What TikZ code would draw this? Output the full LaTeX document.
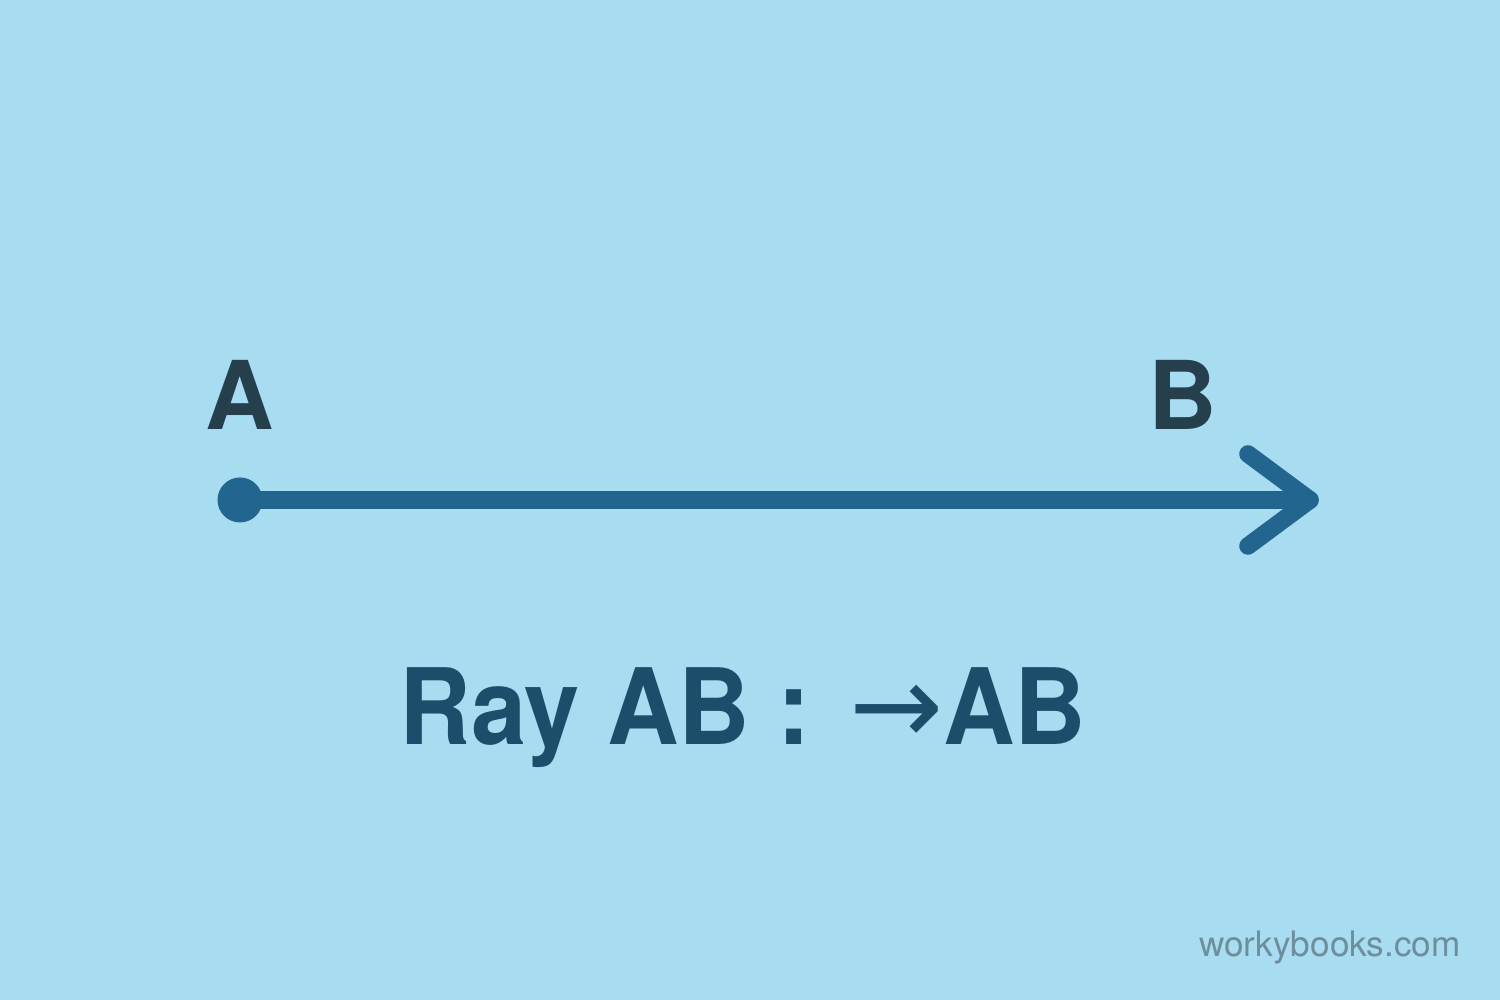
\documentclass[tikz,border=0pt]{standalone}
\usepackage{fontspec}
\setmainfont{TeX Gyre Heros}
\newfontfamily\arrowfont{DejaVu Sans}
\newfontfamily\narrowfont[FakeStretch=0.94]{TeX Gyre Heros}
\usepackage{tikz}
\usetikzlibrary{arrows.meta, positioning, calc}

\definecolor{bgblue}{HTML}{A8DCF1}
\definecolor{raycol}{HTML}{22668F}
\definecolor{pointlabel}{HTML}{263F4C}
\definecolor{titlecol}{HTML}{1B4E6B}
\definecolor{markcol}{HTML}{6F8E9C}

\begin{document}
\begin{tikzpicture}[
		every node/.style={inner sep=0pt},
		ray/.style={draw=raycol, line width=5pt, line cap=round, line join=round},
		endpoint/.style={circle, fill=raycol, minimum size=0.45cm},
		pointname/.style={text=pointlabel, font=\fontsize{27}{32}\selectfont\bfseries, anchor=base},
		caption/.style={text=titlecol, font=\narrowfont\fontsize{30}{36}\selectfont\bfseries, anchor=base},
		watermark/.style={text=markcol, font=\fontsize{10}{12}\selectfont, anchor=base}
		]
		
		% === BACKGROUND ===
		\fill[bgblue] (0, 0) rectangle (15, 10);
		\useasboundingbox (0, 0) rectangle (15, 10);
		
		% === RAY AB ===
		\node[endpoint] (pointA) at (2.40, 5.00) {};
		\coordinate (tipB) at (13.10, 5.00);
		\coordinate (barbUp) at (12.48, 5.46);
		\coordinate (barbDown) at (12.48, 4.54);
		\draw[ray] (pointA.center) -- (tipB);
		\draw[ray] (barbUp) -- (tipB) -- (barbDown);
		
		% === POINT LABELS ===
		\node[pointname] (labelA) at (2.40, 5.70) {A};
		\node[pointname] (labelB) at (11.83, 5.70) {B};
		
		% === NOTATION ===
		\node[caption] (notation) at (7.43, 2.55) {Ray AB :\hspace{0.38cm}{\arrowfont\mdseries\fontsize{32}{36}\selectfont →}AB};
		
		% === SOURCE ===
		\node[watermark] (source) at (13.30, 0.43) {workybooks.com};
		
	\end{tikzpicture}
\end{document}
